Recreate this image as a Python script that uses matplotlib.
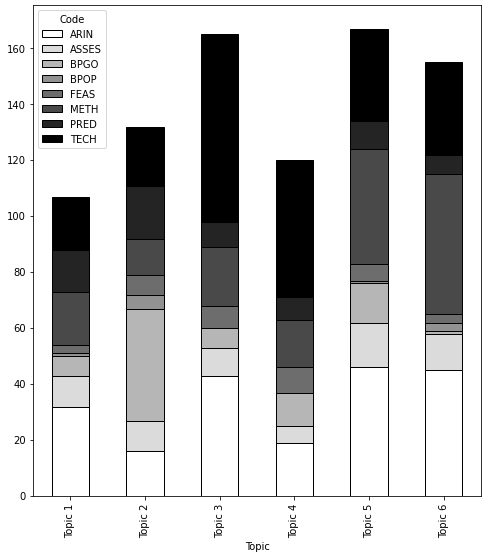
import matplotlib
matplotlib.use("Agg")
import matplotlib.pyplot as plt
import numpy as np

topics = ["Topic 1", "Topic 2", "Topic 3", "Topic 4", "Topic 5", "Topic 6"]
codes = ["ARIN", "ASSES", "BPGO", "BPOP", "FEAS", "METH", "PRED", "TECH"]

arin = [32, 16, 43, 19, 46, 45]
asses = [11, 11, 10, 6, 16, 13]
bpgo = [7, 40, 7, 12, 14, 1]
bpop = [1, 5, 0, 0, 1, 3]
feas = [3, 7, 8, 9, 6, 3]
meth = [19, 13, 21, 17, 41, 50]
pred = [15, 19, 9, 8, 10, 7]
tech = [19, 21, 67, 49, 33, 33]

series = [arin, asses, bpgo, bpop, feas, meth, pred, tech]

# white -> black in even steps
greys = [str(1 - i / 7) for i in range(len(codes))]

fig, ax = plt.subplots(figsize=(6.75, 7.78), dpi=72)
fig.subplots_adjust(left=0.068, right=0.99, top=0.99, bottom=0.114)

x = np.arange(len(topics))
bottom = np.zeros(len(topics))
for name, vals, col in zip(codes, series, greys):
    ax.bar(x, vals, 0.5, bottom=bottom, color=col, edgecolor="black",
           linewidth=1, label=name)
    bottom += np.array(vals)

ax.set_xlim(-0.5, len(topics) - 0.5)
ax.set_ylim(0, bottom.max() * 1.05)
ax.set_xticks(x)
ax.set_xticklabels(topics, rotation=90)
ax.set_yticks(range(0, 161, 20))
ax.set_xlabel("Topic")
ax.legend(title="Code", loc="upper left")

fig.savefig("out.png", dpi=72)
